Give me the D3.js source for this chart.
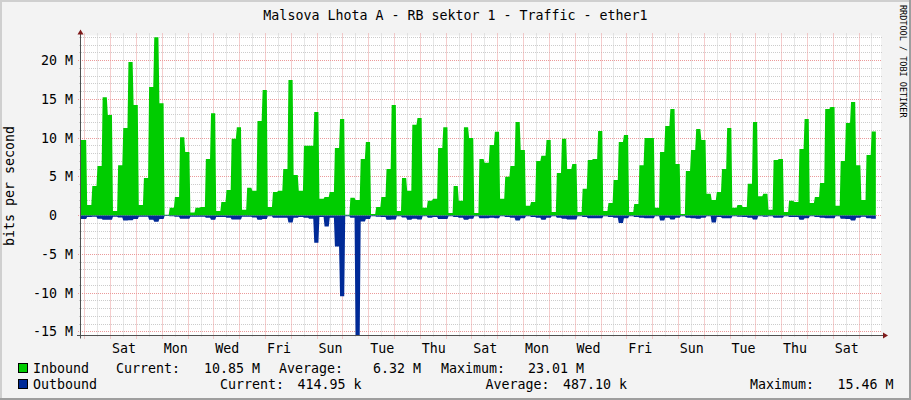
<!DOCTYPE html>
<html><head><meta charset="utf-8">
<script src="https://cdn.jsdelivr.net/npm/d3@7"></script>
<style>
html,body{margin:0;padding:0;background:#f3f3f3;}
svg{display:block;}
text{font-family:"DejaVu Sans Mono",monospace;font-size:13.3px;fill:#000;}
</style></head><body>
<svg id="chart" width="911" height="400"></svg>
<script>
// ---------- data ----------
const title = "Malsova Lhota A - RB sektor 1 - Traffic - ether1";
const yTitle = "bits per second";
const watermark = "RRDTOOL / TOBI OETIKER";
// Mbit/s per 0.2-day step
const inbound = [
9.75,1.37,3.8,6.4,15.25,12.97,0.6,6.5,11.3,19.8,14.26,1.37,4.85,16.6,23.01,14.5,0.1,1.0,2.4,10.1,8.2,0.4,1.0,1.1,7.3,13.2,0.6,1.76,3.3,9.9,11.4,0.73,3.57,3.2,12.2,16.2,1.1,3.05,3.2,
6.0,17.5,5.24,3.2,9.0,9.0,13.36,2.15,2.4,3.05,8.7,12.46,0.1,2.3,2.0,7.3,9.5,0.2,1.1,2.4,6.0,14.26,0.6,4.85,3.2,11.7,12.6,1.0,1.9,2.15,8.7,11.4,0.34,3.8,1.9,11.4,10.0,0.34,7.3,6.8,
9.1,10.8,2.15,5.0,6.4,12.07,8.46,1.25,1.76,7.04,7.7,9.75,0.47,5.5,9.9,6.0,6.66,0.47,3.44,7.17,7.3,10.9,0.6,1.63,4.6,9.5,10.4,0.47,1.5,6.5,10.0,10.0,1.0,8.2,11.55,13.75,6.66,0.2,5.76,
8.46,11.17,9.75,2.8,2.0,3.05,6.0,11.3,1.0,1.37,1.1,4.1,12.07,2.5,2.8,0.73,7.17,7.3,0.47,1.9,1.76,8.6,12.46,1.63,2.4,4.2,13.75,14.0,1.25,7.04,11.94,14.65,6.5,2.0,7.8,10.85
];
const outbound = [
0.45,0.2,0.15,0.4,0.55,0.55,0.15,0.25,0.65,0.6,0.45,0.15,0.15,0.55,0.8,0.45,0.05,0.1,0.15,0.4,0.4,0.15,0.15,0.15,0.3,0.55,0.2,0.2,0.3,0.5,0.5,0.15,0.15,0.25,0.55,0.45,0.1,0.3,0.3,
0.3,0.9,0.3,0.2,0.3,0.4,3.5,0.2,1.4,0.3,4.0,10.4,0.1,0.3,15.46,0.77,0.45,0.1,0.15,0.2,0.55,0.5,0.1,0.25,0.55,0.4,0.5,0.1,0.3,0.2,0.45,0.45,0.1,0.2,0.3,0.55,0.4,0.1,0.35,0.35,
0.3,0.35,0.1,0.2,0.3,0.65,0.35,0.1,0.2,0.3,0.55,0.3,0.1,0.3,0.4,0.5,0.5,0.1,0.2,0.35,0.35,0.35,0.1,0.2,0.3,0.95,0.35,0.1,0.2,0.3,0.35,0.35,0.1,0.65,0.3,0.5,0.3,0.1,0.3,
0.35,0.4,0.3,0.1,0.9,0.2,0.35,0.35,0.1,0.15,0.2,0.3,0.5,0.1,0.15,0.1,0.3,0.3,0.1,0.2,0.2,0.55,0.35,0.1,0.2,0.3,0.35,0.35,0.1,0.4,0.45,0.65,0.3,0.15,0.35,0.415
];
const dayLabels = ["Sat","Mon","Wed","Fri","Sun","Tue","Thu","Sat","Mon","Wed","Fri","Sun","Tue","Thu","Sat"];
const yTickValues = [-15,-10,-5,0,5,10,15,20];
const seriesNames = ["Inbound","Outbound"];
const seriesColors = ["#00cc00","#002a97"];
const inboundStats = ["Current:","10.85 M","Average:","6.32 M","Maximum:","23.01 M"];
const outboundStats = ["Current:","414.95 k","Average:","487.10 k","Maximum:","15.46 M"];

// ---------- layout ----------
const W=911,H=400;
const L=81, R=881, T=35.5, B=335.5;
const spanDays = 31, stepDays = 0.2, firstMidnight = 0.15;
const svg = d3.select("#chart");
const x = d3.scaleLinear().domain([0,spanDays]).range([L,R]);
const y = d3.scaleLinear().domain([-15.48,23.23]).range([B,T]);
const px = v => Math.floor(v)+0.5;

// background + frame
svg.append("rect").attr("width",W).attr("height",H).attr("fill","#f3f3f3");
svg.append("rect").attr("x",0).attr("y",0).attr("width",W).attr("height",2).attr("fill","#cfcfcf");
svg.append("rect").attr("x",0).attr("y",0).attr("width",2).attr("height",H).attr("fill","#cfcfcf");
svg.append("rect").attr("x",0).attr("y",H-2).attr("width",W).attr("height",2).attr("fill","#9e9e9e");
svg.append("rect").attr("x",W-2).attr("y",0).attr("width",2).attr("height",H).attr("fill","#9e9e9e");
// canvas
svg.append("rect").attr("x",L).attr("y",T).attr("width",R-L).attr("height",B-T).attr("fill","#ffffff");

// grid
const g = svg.append("g");
const minorY = d3.range(-15,24,1).filter(v=>v%5!==0);
const majorY = d3.range(-15,24,5);
const minorX = d3.range(firstMidnight+0.5, spanDays, 1);
const majorX = d3.range(firstMidnight, spanDays, 1);
g.selectAll(".gy").data(minorY).join("line")
  .attr("x1",L-2).attr("x2",R+1).attr("y1",d=>px(y(d))).attr("y2",d=>px(y(d)))
  .attr("stroke","#cccccc").attr("stroke-dasharray","1,1");
g.selectAll(".gx").data(minorX).join("line")
  .attr("y1",T-2).attr("y2",B+1).attr("x1",d=>px(x(d))).attr("x2",d=>px(x(d)))
  .attr("stroke","#cccccc").attr("stroke-dasharray","1,1");
g.selectAll(".my").data(majorY).join("line")
  .attr("x1",L-3).attr("x2",R+1).attr("y1",d=>px(y(d))).attr("y2",d=>px(y(d)))
  .attr("stroke","#eb9a9a").attr("stroke-dasharray","1,1");
g.selectAll(".mx").data(majorX).join("line")
  .attr("y1",T-2).attr("y2",B+3).attr("x1",d=>px(x(d))).attr("x2",d=>px(x(d)))
  .attr("stroke","#eb9a9a").attr("stroke-dasharray","1,1");

// areas: each step held flat, with a one-pixel ramp into the next (as RRDtool renders)
const onePx = x.invert(L+1) - x.invert(L);
function pts(arr, sign){
  const p = [];
  arr.forEach((v,i)=>{
    p.push({t:i*stepDays + (i>0 ? onePx : 0), v:sign*v});
    p.push({t:(i+1)*stepDays, v:sign*v});
  });
  return p;
}
const area = d3.area().curve(d3.curveLinear)
  .x(d=>x(d.t)).y0(y(0)).y1(d=>y(d.v));
svg.append("path").attr("d",area(pts(inbound,1))).attr("fill",seriesColors[0]);
svg.append("path").attr("d",area(pts(outbound,-1))).attr("fill",seriesColors[1]);

// axes lines
const axisCol="#505050", arrowCol="#7f1a1a";
svg.append("line").attr("x1",L-4).attr("x2",R+3).attr("y1",B).attr("y2",B).attr("stroke",axisCol);
svg.append("line").attr("x1",L-0.5).attr("x2",L-0.5).attr("y1",B+3).attr("y2",T-2).attr("stroke",axisCol);
svg.append("path").attr("d",`M${L-3.5},${T-1} L${L+2.5},${T-1} L${L-0.5},${T-6} Z`).attr("fill",arrowCol);
svg.append("path").attr("d",`M${R+2},${B-3} L${R+2},${B+3} L${R+7},${B} Z`).attr("fill",arrowCol);

// x labels via d3 axis
const xAxis = d3.axisBottom(x)
  .tickValues(dayLabels.map((d,i)=>firstMidnight+0.5+1+2*i))
  .tickFormat((d,i)=>dayLabels[i]).tickSize(0).tickPadding(0);
const xg = svg.append("g").attr("transform",`translate(0,${B+5})`).call(xAxis);
xg.select(".domain").remove();
xg.selectAll("text").attr("dy",null).attr("y",12)
  .style("font-family","DejaVu Sans Mono").style("font-size","13.3px");

// y labels via d3 axis
const yAxis = d3.axisLeft(y).tickValues(yTickValues)
  .tickFormat(d=> d===0 ? "0" : d+" M").tickSize(0).tickPadding(0);
const yg = svg.append("g").attr("transform",`translate(73,0)`).call(yAxis);
yg.select(".domain").remove();
yg.selectAll(".tick").attr("transform",d=>`translate(0,${px(y(d))})`);
yg.selectAll("text").attr("dy",null).attr("y",4.6)
  .attr("x",d=> d===0 ? -16 : 0)
  .style("font-family","DejaVu Sans Mono").style("font-size","13.3px");

// titles
svg.append("text").attr("x",455.5).attr("y",19.5).attr("text-anchor","middle").text(title);
svg.append("text").attr("transform","translate(14,186) rotate(-90)").attr("text-anchor","middle").text(yTitle);
svg.append("text").attr("transform","translate(900,5) rotate(90)")
  .style("font-size","8.5px").attr("fill","#a0a0a0").text(watermark);

// legend
const rows = [
  {name:seriesNames[0], col:seriesColors[0], stats:inboundStats, cy:368,
   pos:[116,260,279,421,441,584]},
  {name:seriesNames[1], col:seriesColors[1], stats:outboundStats, cy:384,
   pos:[220,361.6,485.5,627,750,893.6]}
];
rows.forEach(r=>{
  svg.append("rect").attr("x",18.5).attr("y",r.cy-4.5).attr("width",9).attr("height",9)
    .attr("fill",r.col).attr("stroke","#000");
  svg.append("text").attr("x",33).attr("y",r.cy+4.6).text(r.name);
  r.stats.forEach((s,i)=>{
    svg.append("text").attr("x",r.pos[i]).attr("y",r.cy+4.6)
      .attr("text-anchor", i%2===1 ? "end" : "start").text(s);
  });
});
</script>
</body></html>
